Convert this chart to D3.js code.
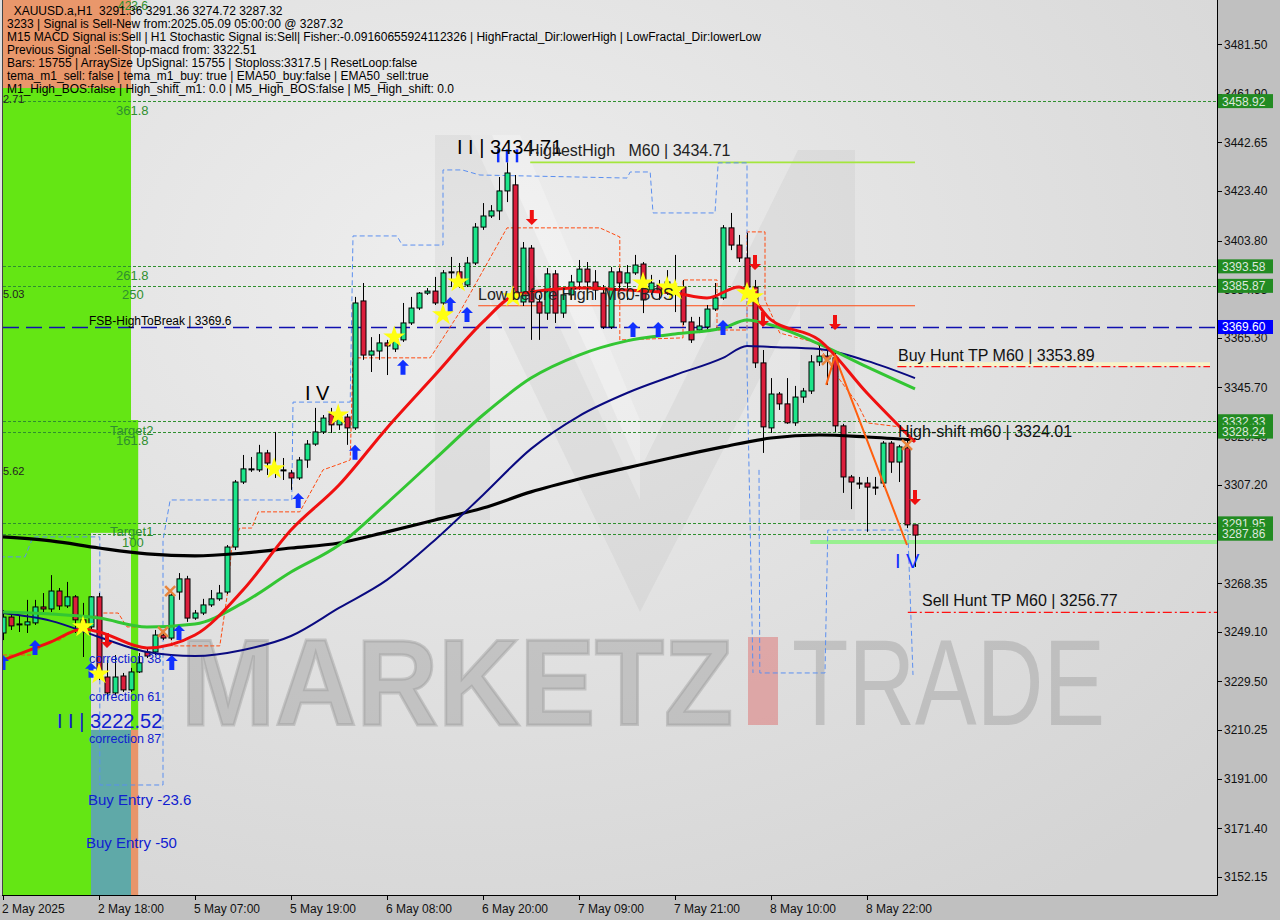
<!DOCTYPE html>
<html><head><meta charset="utf-8">
<script src="https://cdn.jsdelivr.net/npm/d3@7"></script>
<style>body{margin:0;background:#c0c0c0;}svg{display:block;font-family:"Liberation Sans",Arial,sans-serif;}text{white-space:pre;}</style>
</head><body>
<svg id="c" width="1280" height="920"></svg>
<script>
// ---------------- DATA ----------------
const opens=[3248.6,3254.9,3251.8,3251.8,3252.6,3258.9,3258.1,3265.2,3259.3,3262.9,3253.8,3251.0,3262.9,3231.2,3224.9,3231.6,3226.1,3233.2,3241.1,3241.1,3247.8,3246.6,3264.8,3270.0,3254.5,3256.5,3259.7,3262.1,3264.8,3282.6,3308.3,3313.1,3313.1,3319.8,3313.1,3312.7,3311.9,3309.9,3317.0,3323.3,3328.1,3335.2,3330.9,3334.0,3329.7,3379.9,3358.5,3360.1,3363.3,3360.9,3364.5,3371.2,3377.1,3383.0,3383.8,3379.1,3391.0,3391.4,3386.2,3394.9,3409.1,3413.5,3415.5,3423.4,3425.8,3379.5,3400.8,3379.5,3375.1,3390.6,3375.1,3382.3,3387.4,3392.5,3387.4,3383.0,3369.6,3391.4,3387.0,3391.0,3394.5,3384.2,3386.2,3384.2,3385.0,3385.4,3371.6,3368.4,3369.6,3376.7,3381.1,3408.8,3402.0,3396.9,3385.4,3355.4,3329.7,3343.1,3339.2,3331.7,3341.9,3344.3,3355.8,3358.1,3357.4,3330.5,3310.3,3307.9,3307.9,3306.3,3307.9,3323.7,3316.2,3321.8,3291.36];
const highs=[3257.7,3256.5,3255.7,3261.7,3261.7,3264.4,3271.5,3266.4,3268.8,3263.6,3260.5,3263.2,3264.4,3237.9,3239.9,3232.8,3234.8,3240.7,3242.7,3249.8,3249.8,3265.6,3272.3,3271.2,3257.7,3262.1,3265.6,3267.6,3283.4,3309.1,3319.0,3318.2,3323.0,3321.0,3328.1,3317.8,3313.1,3318.2,3324.9,3337.6,3334.8,3337.6,3336.8,3335.2,3381.5,3387.0,3365.6,3366.8,3364.5,3366.4,3379.1,3381.5,3383.4,3385.0,3389.4,3392.1,3397.3,3394.9,3397.3,3410.7,3418.6,3417.8,3428.9,3434.71,3429.7,3403.2,3402.0,3382.3,3392.9,3392.1,3384.2,3390.2,3396.1,3395.3,3392.1,3386.2,3393.3,3392.9,3394.1,3398.1,3395.3,3390.2,3388.2,3392.1,3398.1,3388.2,3373.6,3373.6,3378.3,3387.0,3409.9,3414.7,3406.0,3406.8,3388.2,3360.5,3349.4,3343.9,3349.4,3346.3,3345.5,3358.5,3362.5,3361.3,3359.3,3331.3,3311.1,3310.3,3310.3,3310.3,3324.5,3324.5,3323.0,3324.9,3291.36];
const lows=[3245.8,3249.8,3249.0,3248.6,3251.8,3256.9,3256.9,3257.7,3258.5,3248.6,3239.1,3249.8,3230.0,3222.52,3224.1,3225.3,3225.3,3232.8,3238.7,3239.9,3245.8,3245.8,3261.7,3253.0,3253.8,3255.7,3258.9,3261.3,3264.0,3281.4,3307.5,3312.3,3312.3,3311.1,3309.9,3309.1,3305.2,3309.1,3313.9,3322.6,3327.3,3327.7,3328.9,3323.0,3328.9,3356.6,3351.8,3356.6,3350.6,3359.7,3363.7,3370.4,3376.3,3382.3,3378.3,3378.3,3385.4,3385.0,3385.4,3394.1,3408.0,3412.7,3411.9,3419.0,3380.3,3377.9,3364.5,3364.5,3372.4,3371.2,3373.2,3380.3,3384.2,3380.3,3380.3,3368.8,3368.8,3384.2,3380.3,3390.2,3375.1,3382.3,3380.3,3382.3,3375.5,3370.4,3363.3,3367.2,3368.4,3375.9,3380.3,3400.0,3395.3,3384.2,3353.4,3319.8,3327.7,3336.8,3331.3,3330.5,3339.6,3343.1,3354.2,3346.7,3328.1,3304.0,3297.6,3305.6,3288.6,3303.2,3306.3,3311.9,3308.3,3290.1,3274.72];
const closes=[3254.9,3251.4,3252.2,3253.0,3258.9,3258.1,3265.2,3259.3,3262.9,3253.8,3252.2,3262.9,3231.2,3224.9,3231.2,3226.1,3233.2,3236.8,3239.5,3247.8,3246.6,3263.6,3270.0,3254.5,3256.5,3259.7,3262.1,3264.4,3282.6,3308.3,3313.5,3313.5,3319.8,3315.8,3313.9,3313.1,3309.9,3317.0,3323.3,3328.1,3333.6,3330.9,3333.6,3329.7,3379.1,3358.5,3360.1,3363.3,3362.1,3364.5,3371.2,3377.1,3383.0,3383.8,3379.1,3391.0,3391.4,3386.2,3394.9,3409.1,3413.5,3415.5,3423.4,3430.5,3381.1,3400.8,3379.5,3375.1,3390.6,3375.1,3382.3,3387.4,3392.5,3387.4,3384.2,3369.6,3391.4,3387.0,3391.0,3394.1,3380.3,3387.0,3383.4,3387.4,3385.4,3371.6,3364.5,3370.0,3376.7,3381.1,3408.8,3402.0,3396.9,3385.4,3355.4,3330.1,3343.1,3339.2,3331.7,3341.9,3344.3,3355.8,3358.1,3357.0,3330.5,3310.3,3308.3,3307.5,3306.3,3305.9,3323.7,3316.2,3322.2,3291.36,3287.32];

const timeLabels=["2 May 2025","2 May 18:00","5 May 07:00","5 May 19:00","6 May 08:00","6 May 20:00","7 May 09:00","7 May 21:00","8 May 10:00","8 May 22:00"];
const timeLabelBars=[0,12,24,36,48,60,72,84,96,108];
const tickPrices=[3481.50,3461.90,3442.65,3423.40,3403.80,3384.55,3365.30,3345.70,3326.45,3307.20,3287.80,3268.35,3249.10,3229.50,3210.25,3191.00,3171.40,3152.15];

// moving averages [barIndex, price]
const maFast=[[0,3237.9],[6,3245.1],[10,3250.2],[12,3249.0],[18,3242.7],[24,3247.8],[30,3265.6],[36,3289.3],[42,3307.1],[48,3329.7],[54,3350.6],[60,3371.6],[64,3382.3],[66,3383.4],[72,3385.0],[78,3384.2],[84,3383.0],[88,3381.1],[92,3385.4],[96,3372.4],[102,3364.5],[108,3343.5],[114,3324.1]];
const ma50=[[0,3256.9],[6,3256.1],[12,3254.5],[18,3251.0],[24,3252.2],[30,3260.5],[36,3272.7],[42,3283.4],[48,3300.0],[54,3317.4],[60,3334.8],[66,3349.4],[72,3358.5],[78,3364.1],[84,3366.8],[90,3369.2],[93,3372.4],[96,3370.4],[102,3362.9],[108,3353.8],[114,3345.1]];
const ma100=[[0,3256.5],[6,3253.4],[12,3247.0],[18,3241.1],[24,3239.5],[30,3241.9],[36,3247.4],[42,3258.5],[48,3269.6],[54,3285.4],[60,3303.2],[66,3321.4],[72,3334.4],[78,3343.5],[84,3350.6],[90,3357.4],[93,3362.1],[96,3361.7],[102,3360.9],[108,3356.2],[114,3349.4]];
const ma200=[[0,3286.6],[6,3285.0],[12,3282.2],[18,3279.9],[24,3279.1],[30,3280.2],[36,3282.2],[42,3284.2],[48,3288.6],[54,3293.3],[60,3298.0],[66,3304.4],[72,3309.5],[78,3313.9],[84,3318.2],[90,3322.2],[96,3325.7],[102,3326.9],[108,3326.1],[114,3324.9]];

// channel step lines [barIndex, price]
const orangeChannel=[[0,3239.9],[3.75,3239.9],[5.25,3244.7],[7.1,3245.8],[12.1,3256.5],[14.4,3256.5],[15.5,3251.0],[20.9,3251.0],[21.1,3243.5],[27.1,3243.5],[28,3262.9],[28.6,3282.6],[29.6,3290.1],[31.1,3290.1],[31.9,3296.5],[37.1,3296.5],[40,3313.1],[42.4,3315.8],[43.4,3317.0],[43.75,3357.4],[53.4,3357.4],[57.1,3375.5],[63,3408.8],[74.6,3408.8],[77.1,3405.2],[77.1,3364.5],[85,3365.3],[85,3388.2],[89.25,3388.2],[89.25,3368.4],[93,3368.4],[93,3407.2],[95.25,3407.2],[95.25,3380.3],[97.1,3367.2],[101.75,3363.3],[104.6,3348.7],[106.75,3339.6],[108,3331.7],[112.1,3330.1]];
const blueChannelUpper=[[-0.4,3278.7],[2.75,3278.7],[3.75,3286.6],[12.1,3286.6],[12.1,3188.5],[20,3188.5],[20,3285.4],[20.9,3301.2],[36.1,3301.2],[36.25,3339.9],[43.4,3339.9],[43.75,3405.6],[49.25,3405.6],[49.9,3402.0],[55,3402.0],[55,3431.7],[57.4,3431.7],[59.6,3429.7],[78,3428.5],[78.4,3430.9],[80.9,3430.9],[81.25,3414.7],[89,3414.7],[89.4,3434.5],[93,3434.5],[93,3354.6],[93.75,3232.8]];
const blueChannelLower=[[94.5,3313.1],[94.6,3232.8],[102.75,3232.8],[103.1,3289.3],[113.1,3289.3],[113.75,3232.0]];
const zigzag=[[102.9,3346.7],[104,3358.1],[113,3283.4]];

// signal markers [barIndex, price]
const buyArrows=[[0,3239.9],[4,3245.8],[11,3236.8],[21.1,3239.9],[22,3251.8],[36.9,3304.0],[44,3323.0],[50,3356.6],[55.9,3381.5],[58,3377.5],[78.75,3371.6],[81.9,3371.6],[90,3372.4]];
const sellArrows=[[13,3242.7],[66.1,3409.9],[94,3392.1],[95,3369.6],[104,3368.4],[114,3299.2]];
const stars=[[10,3251.0],[12,3232.4],[33.9,3313.5],[41.9,3334.8],[48.9,3365.6],[55,3374.4],[56.9,3387.4],[63.75,3381.5],[80,3387.0],[83,3385.4],[84,3384.2],[93,3383.0],[93.75,3381.5]];
const crosses=[[20,3249.0],[20.9,3265.2],[103,3356.6],[113,3323.0]];

// horizontal levels
const fibLevels=[3458.92,3393.58,3385.87,3332.33,3328.24,3291.95,3287.86];
const breakLevel=3369.60;
const highestHigh=3434.71, lowBeforeHigh=3378.0, buyHuntTP=3353.89, sellHuntTP=3256.77, highShift=3324.01, supportLevel=3284.6;

const infoLines=["  XAUUSD.a,H1  3291.36 3291.36 3274.72 3287.32",
"3233 | Signal is Sell-New from:2025.05.09 05:00:00 @ 3287.32",
"M15 MACD Signal is:Sell | H1 Stochastic Signal is:Sell| Fisher:-0.09160655924112326 | HighFractal_Dir:lowerHigh | LowFractal_Dir:lowerLow",
"Previous Signal :Sell-Stop-macd from: 3322.51",
"Bars: 15755 | ArraySize UpSignal: 15755 | Stoploss:3317.5 | ResetLoop:false",
"tema_m1_sell: false | tema_m1_buy: true | EMA50_buy:false | EMA50_sell:true",
"M1_High_BOS:false | High_shift_m1: 0.0 | M5_High_BOS:false | M5_High_shift: 0.0"];

// ---------------- DRAW ----------------
const W=1280,H=920,R=1217,B=895;
const x=d3.scaleLinear().domain([0,114]).range([3,915]);
const y=d3.scaleLinear().domain([3145.0,3498.9]).range([895,0]);
const svg=d3.select('#c');
const defs=svg.append('defs');
const rg=defs.append('radialGradient').attr('id','bg').attr('cx','0.38').attr('cy','0.3').attr('r','0.85');
rg.append('stop').attr('offset','0').attr('stop-color','#eeeeee');
rg.append('stop').attr('offset','1').attr('stop-color','#d4d4d4');
defs.append('clipPath').attr('id','clip').append('rect').attr('x',2).attr('y',0).attr('width',R-2).attr('height',B);

svg.append('rect').attr('width',W).attr('height',H).attr('fill','#c0c0c0');
svg.append('rect').attr('x',0).attr('y',0).attr('width',R).attr('height',B).attr('fill','url(#bg)');
const plot=svg.append('g').attr('clip-path','url(#clip)');

// watermark logo M
const wm=plot.append('g');
wm.append('path').attr('d','M435,135 L492,135 L640,470 L798,150 L855,150 L855,520 L800,520 L800,300 L640,612 L490,300 L490,520 L435,520 Z').attr('fill','rgba(120,120,120,0.08)');
wm.append('path').attr('d','M470,135 L520,135 L640,420 L640,500 Z').attr('fill','rgba(255,255,255,0.25)');
wm.append('text').attr('x',181).attr('y',725).attr('font-size',122).attr('font-weight','bold').attr('textLength',552).attr('lengthAdjust','spacingAndGlyphs')
 .attr('fill','rgba(150,150,150,0.40)').attr('stroke','rgba(150,150,150,0.40)').attr('stroke-width',3).attr('paint-order','stroke').text('MARKETZ');
wm.append('rect').attr('x',748).attr('y',637).attr('width',30).attr('height',88).attr('fill','rgba(220,120,120,0.55)');
wm.append('text').attr('x',792).attr('y',725).attr('font-size',122).attr('textLength',313).attr('lengthAdjust','spacingAndGlyphs').attr('fill','rgba(150,150,150,0.40)').text('TRADE');

// left zones
const zones=[
 {i0:-0.4,i1:16,p0:3498.9,p1:3464.1,c:'#e9976b'},
 {i0:-0.4,i1:11,p0:3464.1,p1:3145.0,c:'#64e614'},
 {i0:11,i1:16,p0:3464.1,p1:3288.2,c:'#64e614'},
 {i0:16,i1:16.9,p0:3332.8,p1:3210.3,c:'#64e614'},
 {i0:11,i1:16,p0:3210.3,p1:3145.0,c:'#5fa9a8'},
 {i0:16,i1:16.9,p0:3210.3,p1:3145.0,c:'#e8956a'}];
plot.selectAll('rect.zone').data(zones).join('rect').attr('class','zone')
 .attr('x',d=>x(d.i0)).attr('width',d=>x(d.i1)-x(d.i0)).attr('y',d=>y(d.p0)).attr('height',d=>y(d.p1)-y(d.p0)).attr('fill',d=>d.c);

// fib dotted levels
plot.selectAll('line.fib').data(fibLevels).join('line').attr('class','fib')
 .attr('x1',3).attr('x2',R).attr('y1',d=>Math.round(y(d))+0.5).attr('y2',d=>Math.round(y(d))+0.5)
 .attr('stroke','#2f8f2f').attr('stroke-width',1).attr('stroke-dasharray','3,2');
// break level
plot.append('line').attr('x1',3).attr('x2',R).attr('y1',Math.round(y(breakLevel))+0.5).attr('y2',Math.round(y(breakLevel))+0.5)
 .attr('stroke','#1010b0').attr('stroke-width',1.4).attr('stroke-dasharray','16,7');

// special lines
const hl=(p,i0,xEnd,col,w,dash)=>plot.append('line').attr('x1',x(i0)).attr('x2',xEnd).attr('y1',y(p)).attr('y2',y(p)).attr('stroke',col).attr('stroke-width',w).attr('stroke-dasharray',dash||null);
hl(highestHigh,65.9,915,'#a4e63c',1.6);
hl(lowBeforeHigh,59.4,915,'#ff4a10',1.2);
hl(supportLevel,100.9,R,'#98f090',4);
plot.append('line').attr('x1',x(111.8)).attr('x2',1210).attr('y1',y(buyHuntTP)-2.5).attr('y2',y(buyHuntTP)-2.5).attr('stroke','#f8f4c8').attr('stroke-width',4);
hl(buyHuntTP,111.8,1210,'#ff1010',1.3,'9,3,2,3');
hl(sellHuntTP,113.1,R,'#ff1010',1.3,'9,3,2,3');

// channels
const ln=d3.line().x(d=>x(d[0])).y(d=>y(d[1]));
plot.append('path').attr('d',ln(orangeChannel)).attr('fill','none').attr('stroke','#ff4a10').attr('stroke-width',1).attr('stroke-dasharray','4,2');
[blueChannelUpper,blueChannelLower].forEach(c=>plot.append('path').attr('d',ln(c)).attr('fill','none').attr('stroke','#5b8ff0').attr('stroke-width',1).attr('stroke-dasharray','5,3'));

// candles
const bars=d3.range(opens.length).map(i=>({i,o:opens[i],h:highs[i],l:lows[i],c:closes[i]}));
const cg=plot.append('g');
cg.selectAll('line').data(bars).join('line')
 .attr('x1',d=>Math.round(x(d.i))+0.5).attr('x2',d=>Math.round(x(d.i))+0.5)
 .attr('y1',d=>y(d.h)).attr('y2',d=>y(d.l)).attr('stroke','#000').attr('stroke-width',1);
cg.selectAll('rect').data(bars).join('rect')
 .attr('x',d=>Math.round(x(d.i))-2).attr('width',5)
 .attr('y',d=>Math.min(y(d.o),y(d.c))).attr('height',d=>Math.max(1,Math.abs(y(d.o)-y(d.c))))
 .attr('fill',d=>d.c>=d.o?'#1de58a':'#dc1e3c').attr('stroke','#000').attr('stroke-width',1);

// moving averages
const cl=d3.line().x(d=>x(d[0])).y(d=>y(d[1])).curve(d3.curveMonotoneX);
plot.append('path').attr('d',cl(ma200)).attr('fill','none').attr('stroke','#000').attr('stroke-width',3.2);
plot.append('path').attr('d',cl(ma100)).attr('fill','none').attr('stroke','#0a0a80').attr('stroke-width',2);
plot.append('path').attr('d',cl(ma50)).attr('fill','none').attr('stroke','#33c633').attr('stroke-width',3);
plot.append('path').attr('d',cl(maFast)).attr('fill','none').attr('stroke','#f01010').attr('stroke-width',3);
plot.append('path').attr('d',ln(zigzag)).attr('fill','none').attr('stroke','#ff6010').attr('stroke-width',2);

// markers
plot.selectAll('path.buy').data(buyArrows).join('path').attr('class','buy')
 .attr('transform',d=>`translate(${x(d[0])},${y(d[1])})`)
 .attr('d','M0,0 L6,6 L2.5,6 L2.5,15 L-2.5,15 L-2.5,6 L-6,6 Z').attr('fill','#1030ff');
plot.selectAll('path.sell').data(sellArrows).join('path').attr('class','sell')
 .attr('transform',d=>`translate(${x(d[0])},${y(d[1])})`)
 .attr('d','M0,0 L6,-6 L2,-6 L2,-15 L-2,-15 L-2,-6 L-6,-6 Z').attr('fill','#f01010');
const star=d3.symbol().type(d3.symbolStar).size(150);
plot.selectAll('path.star').data(stars).join('path').attr('class','star')
 .attr('transform',d=>`translate(${x(d[0])},${y(d[1])})`).attr('d',star).attr('fill','#ffff10');
plot.selectAll('g.cross').data(crosses).join('g').attr('class','cross')
 .attr('transform',d=>`translate(${x(d[0])},${y(d[1])})`)
 .each(function(){const g=d3.select(this);g.append('line').attr('x1',-5).attr('y1',-5).attr('x2',5).attr('y2',5);g.append('line').attr('x1',-5).attr('y1',5).attr('x2',5).attr('y2',-5);})
 .selectAll('line').attr('stroke','#e8843c').attr('stroke-width',2.5);
// blue high marks
plot.selectAll('line.hm').data([61.9,63,64.25]).join('line').attr('class','hm')
 .attr('x1',d=>x(d)).attr('x2',d=>x(d)).attr('y1',y(highestHigh)).attr('y2',y(highestHigh)-13).attr('stroke','#1030ff').attr('stroke-width',2.5);

// texts on plot
const T=(t,px,py,size,col)=>plot.append('text').attr('x',px).attr('y',py).attr('font-size',size).attr('fill',col).attr('xml:space','preserve').text(t);
T('423.6',118,10,12,'#2f8f2f');
T('361.8',116,115,13,'#2f8f2f');
T('261.8',116,280,13,'#2f8f2f');
T('250',122,299,13,'#2f8f2f');
T('Target2',110,435,13,'#2f8f2f');
T('161.8',116,445,13,'#2f8f2f');
T('Target1',110,536,13,'#2f8f2f');
T('100',122,547,13,'#2f8f2f');
T('2.71',3,103,11,'#222');
T('5.03',3,298,11,'#222');
T('5.62',3,475,11,'#222');
T('FSB-HighToBreak | 3369.6',89,325,12,'#000');
T('I I | 3434.71',457,154,20,'#000');
T('HighestHigh   M60 | 3434.71',528,156,16,'#222');
T('Low before High  M60-BOS',478,300,16,'#222');
T('I V',305,400,20,'#000');
T('Buy Hunt TP M60 | 3353.89',898,361,16,'#111');
T('High-shift m60 | 3324.01',898,437,16,'#111');
T('I V',895,568,20,'#1030ff');
T('Sell Hunt TP M60 | 3256.77',922,606,16,'#111');
T('correction 38',89,663,12.5,'#1020d0');
T('correction 61',89,701,12.5,'#1020d0');
T('I I | 3222.52',57,728,20,'#1020d0');
T('correction 87',89,743,12.5,'#1020d0');
T('Buy Entry -23.6',88,805,15,'#1020d0');
T('Buy Entry -50',86,848,15,'#1020d0');

// info text
plot.selectAll('text.info').data(infoLines).join('text').attr('class','info')
 .attr('x',7).attr('y',(d,i)=>15+i*13).attr('font-size',12).attr('fill','#000').attr('xml:space','preserve').text(d=>d);

// frame
svg.append('line').attr('x1',2.5).attr('x2',2.5).attr('y1',0).attr('y2',B).attr('stroke','#444');
svg.append('line').attr('x1',2).attr('x2',R+0.5).attr('y1',B+0.5).attr('y2',B+0.5).attr('stroke','#000');
svg.append('line').attr('x1',R+0.5).attr('x2',R+0.5).attr('y1',0).attr('y2',B+0.5).attr('stroke','#000');

// right axis
const ax=svg.append('g');
ax.selectAll('line.t').data(tickPrices).join('line').attr('class','t')
 .attr('x1',R).attr('x2',R+5).attr('y1',d=>Math.round(y(d))+0.5).attr('y2',d=>Math.round(y(d))+0.5).attr('stroke','#000');
ax.selectAll('text.t').data(tickPrices).join('text').attr('class','t')
 .attr('x',1224).attr('y',d=>y(d)+4.5).attr('font-size',12).attr('fill','#111').text(d=>d.toFixed(2));
const lab=ax.selectAll('g.lab').data(fibLevels.map(p=>({p,c:'#228b22',t:'#dde8dd'})).concat([{p:breakLevel,c:'#0000ff',t:'#ffffff'}])).join('g').attr('class','lab');
lab.append('rect').attr('x',1218).attr('y',d=>y(d.p)-7).attr('width',55).attr('height',14).attr('fill',d=>d.c);
lab.append('text').attr('x',1222).attr('y',d=>y(d.p)+4.5).attr('font-size',12).attr('fill',d=>d.t).text(d=>d.p.toFixed(2));

// bottom axis
const bx=svg.append('g');
bx.selectAll('line').data(timeLabelBars).join('line').attr('x1',d=>Math.round(x(d))+0.5).attr('x2',d=>Math.round(x(d))+0.5).attr('y1',B).attr('y2',B+5).attr('stroke','#000');
bx.selectAll('text').data(timeLabelBars).join('text').attr('x',d=>x(d)-1).attr('y',913).attr('font-size',12).attr('fill','#111').text((d,i)=>timeLabels[i]);
</script>
</body></html>
